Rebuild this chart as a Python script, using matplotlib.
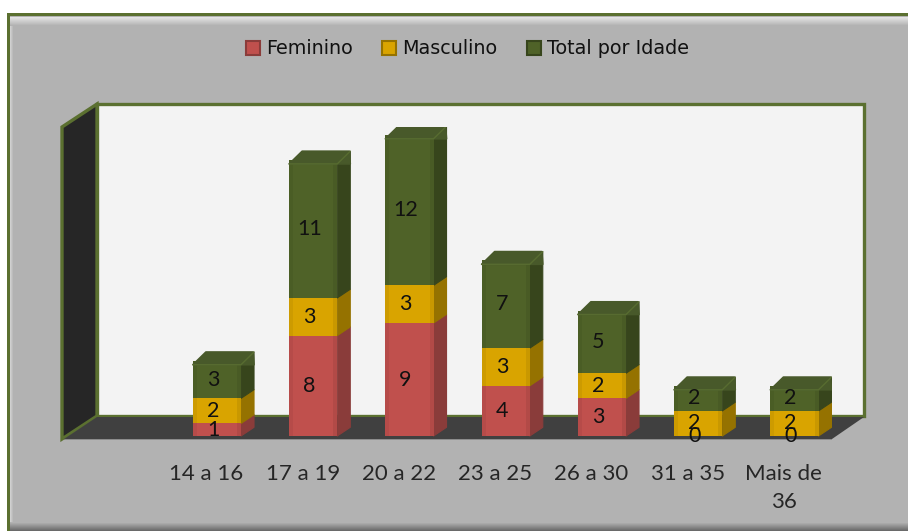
"""
Stacked bars by age group, drawn with a fake 3D look
"""

import matplotlib
matplotlib.use('Agg')
import numpy as np
import matplotlib.pyplot as plt
from matplotlib.patches import Polygon, Rectangle
from matplotlib.transforms import Affine2D

# Chart data
age_groups = ['14 a 16', '17 a 19', '20 a 22', '23 a 25', '26 a 30', '31 a 35', 'Mais de\n36']
feminino = [1, 8, 9, 4, 3, 0, 0]
masculino = [2, 3, 3, 3, 2, 2, 2]
total_idade = [3, 11, 12, 7, 5, 2, 2]
series_names = ['Feminino', 'Masculino', 'Total por Idade']

# Face, side and top colours per series
FACE = ['#C0504D', '#D9A400', '#4F6228']
SIDE = ['#8A3C3A', '#957200', '#37451C']
CAP = '#48592A'
RIDGE = '#5E7433'
FRAME = '#5B7030'

W, H = 908, 531
UNIT = 12.55  # px per value
fig = plt.figure(figsize=(W / 100, H / 100), dpi=100, facecolor='white')
# pixel coords, y going down, for the frame and walls
px = Affine2D().scale(1 / W, -1 / H).translate(0, 1) + fig.transFigure


def deco(points, color, z=1, **kw):
    fig.add_artist(Polygon(points, closed=True, transform=px, facecolor=color,
                           edgecolor=kw.pop('edgecolor', 'none'), zorder=z, **kw))


def gradient(x0, y0, x1, y1, c0, c1, vertical=True, z=1.5):
    # little stack of strips, imshow on a figure is more trouble
    n = int(abs(y1 - y0) if vertical else abs(x1 - x0))
    c0, c1 = matplotlib.colors.to_rgb(c0), matplotlib.colors.to_rgb(c1)
    for k in range(n):
        t = k / max(n - 1, 1)
        col = tuple(a + (b - a) * t for a, b in zip(c0, c1))
        if vertical:
            r = Rectangle((x0, y0 + k), x1 - x0, 1.2, transform=px, fc=col, ec='none', zorder=z)
        else:
            r = Rectangle((x0 + k, y0), 1.2, y1 - y0, transform=px, fc=col, ec='none', zorder=z)
        fig.add_artist(r)


# Outer panel
deco([(8, 14), (W, 14), (W, H), (8, H)], '#B2B2B2')
gradient(10, 17, 14, H, '#D0D0D0', '#B2B2B2', vertical=False)
gradient(10, 17, W, 26, '#E4E4E4', '#B2B2B2')
gradient(10, 522, W, H, '#B2B2B2', '#6A6A6A')
deco([(7, 13), (W, 13), (W, 16), (10, 16), (10, H), (7, H)], FRAME, z=2)

# Back wall, left wall, floor
deco([(97, 104), (864, 104), (864, 416), (97, 416)], '#F3F3F3', z=2,
     edgecolor=FRAME, linewidth=2.4)
deco([(62, 127), (97, 104), (97, 416), (62, 439)], '#262626', z=3,
     edgecolor=FRAME, linewidth=2.4)
deco([(64, 439), (97, 417), (864, 417), (832, 439)], '#404040', z=3)
gradient(64, 439, 832, 441, '#8C8C8C', '#B2B2B2', z=2.5)

# Plot axes cover the front plane of the chart, first slot stays empty
ax = fig.add_axes([62 / W, 1 - 439 / H, 770 / W, 312 / H], facecolor='none', zorder=5)
ax.set_xlim(-1.5, 6.5)
ax.set_ylim(-3 / UNIT, 309 / UNIT)
for s in ax.spines.values():
    s.set_visible(False)
ax.yaxis.set_visible(False)
x = np.arange(len(age_groups))
ax.set_xticks(x, age_groups, fontfamily='Lato', fontsize=16, color='#262626', linespacing=1.5)
ax.tick_params(axis='x', length=0, pad=18)

BAR_SHIFT = 0.11
BAR_W = 0.5
DX = 13 / 96.25
DY = 8.7 / UNIT
CAP_DROP = 4 / UNIT  # the rounded cap eats into the green face

bottom = np.zeros(len(x))
stack = [feminino, masculino, total_idade]
centers = x + BAR_SHIFT
for s, vals in enumerate(stack):
    vals = np.array(vals, dtype=float)
    ax.bar(centers, vals, BAR_W, bottom=bottom, color=FACE[s], linewidth=0, zorder=3)
    # depth faces
    for c, b, v in zip(centers, bottom, vals):
        if v == 0:
            continue
        r = c + BAR_W / 2
        ax.add_patch(Polygon([(r, b), (r + DX, b + DY), (r + DX, b + v + DY), (r, b + v)],
                             closed=True, fc=SIDE[s], ec=SIDE[s], lw=0.8,
                             joinstyle='round', zorder=2))
        # bevel shading near the edges of the face
        ax.bar(c - BAR_W / 2 + 0.02, v, 0.04, bottom=b, color='black', alpha=0.05, linewidth=0, zorder=3.1)
        ax.bar(c + BAR_W / 2 - 0.02, v, 0.04, bottom=b, color='black', alpha=0.07, linewidth=0, zorder=3.1)
    bottom = bottom + vals

# caps of the top segment
for c, t in zip(centers, bottom):
    l, r = c - BAR_W / 2, c + BAR_W / 2
    low = t - CAP_DROP
    ax.add_patch(Polygon([(l, low), (l + DX, t + DY), (r + DX - 0.01, t + DY), (r + DX, low), (r, low)],
                         closed=True, fc=CAP, ec=CAP, lw=1.2, joinstyle='round', zorder=3.2))
    ax.plot([l, r, r + DX], [low, low, t + DY], color=RIDGE, lw=1.0, alpha=0.7,
            solid_capstyle='round', zorder=3.3)

# Value labels, a bit left of the bar centre as in the original
bottom = np.zeros(len(x))
for vals in stack:
    vals = np.array(vals, dtype=float)
    for c, b, v in zip(centers, bottom, vals):
        ax.text(c - 0.04, b + v / 2, f'{int(v)}', ha='center', va='center',
                fontfamily='Lato', fontsize=15.5, color='#111111', zorder=6)
    bottom = bottom + vals

# Legend, squares plus text
handles = [Rectangle((0, 0), 1, 1, fc=FACE[i], ec=SIDE[i], lw=1.5) for i in range(3)]
fig.legend(handles, series_names, loc='center', bbox_to_anchor=(467.5 / W, 1 - 49 / H), ncol=3,
           frameon=False, fontsize=13.8, handlelength=0.73, handleheight=0.73,
           handletextpad=0.31, columnspacing=1.56, labelcolor='#111111')

fig.savefig('out.png', dpi=100)
